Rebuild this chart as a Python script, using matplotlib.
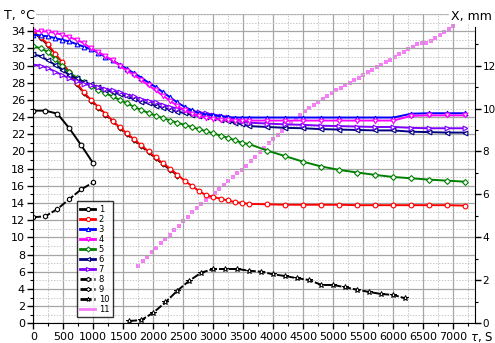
import matplotlib
matplotlib.use("Agg")
import matplotlib.pyplot as plt
from matplotlib.ticker import MultipleLocator

# --- time grids (s) ---
t_fine = [0, 120, 240, 360, 480, 600, 720, 840, 960, 1080, 1200, 1320, 1440, 1560,
          1680, 1800, 1920, 2040, 2160, 2280, 2400, 2520, 2640, 2760, 2880, 3000,
          3120, 3240, 3360, 3480, 3600, 3900, 4200, 4500, 4800, 5100, 5400, 5700,
          6000, 6300, 6600, 6900, 7200]
t_short = [0, 200, 400, 600, 800, 1000]
t_s9 = [0, 120, 240, 360, 480, 600, 720, 840, 960, 1080, 1200, 1320, 1440, 1560,
        1680, 1800, 1920, 2040, 2160, 2280, 2400]
t_s10 = [1600, 1800, 2000, 2200, 2400, 2600, 2800, 3000, 3200, 3400, 3600, 3800,
         4000, 4200, 4400, 4600, 4800, 5000, 5200, 5400, 5600, 5800, 6000, 6200]
t_s11 = [1750, 1825, 1900, 1975, 2050, 2125, 2200, 2275, 2350, 2425, 2500, 2575,
         2650, 2725, 2800, 2875, 2950, 3025, 3100, 3175, 3250, 3325, 3400, 3475,
         3550, 3625, 3700, 3775, 3850, 3925, 4000, 4075, 4150, 4225, 4300, 4375,
         4450, 4525, 4600, 4675, 4750, 4825, 4900, 4975, 5050, 5125, 5200, 5275,
         5350, 5425, 5500, 5575, 5650, 5725, 5800, 5875, 5950, 6025, 6100, 6175,
         6250, 6325, 6400, 6475, 6550, 6625, 6700, 6775, 6850, 6925, 7000]

# --- temperatures (°C) ---
s1 = [24.75, 24.75, 24.4, 22.7, 20.7, 18.6]
s2 = [33.9, 33.3, 32.5, 31.4, 30.4, 29.2, 28.0, 26.9, 26.0, 25.2, 24.4, 23.6, 22.8,
      22.1, 21.4, 20.7, 20.0, 19.3, 18.6, 18.0, 17.3, 16.6, 16.0, 15.4, 14.9, 14.7,
      14.5, 14.3, 14.1, 14.0, 13.9, 13.85, 13.8, 13.8, 13.8, 13.8, 13.75, 13.75,
      13.75, 13.75, 13.75, 13.75, 13.7]
s3 = [33.6, 33.5, 33.4, 33.2, 33.0, 32.8, 32.5, 32.2, 31.9, 31.5, 31.0, 30.6, 30.1,
      29.6, 29.1, 28.6, 28.0, 27.5, 26.9, 26.3, 25.7, 25.2, 24.8, 24.45, 24.3, 24.2,
      24.1, 24.0, 23.95, 23.95, 23.95, 23.95, 23.95, 23.95, 23.95, 23.95, 23.95,
      23.95, 23.95, 24.4, 24.45, 24.45, 24.45]
s4 = [34.0, 34.0, 33.95, 33.8, 33.6, 33.3, 33.0, 32.6, 32.0, 31.6, 31.1, 30.6, 30.0,
      29.4, 28.9, 28.3, 27.7, 27.1, 26.5, 25.9, 25.3, 24.8, 24.4, 24.1, 23.9, 23.8,
      23.7, 23.65, 23.6, 23.6, 23.6, 23.6, 23.6, 23.6, 23.6, 23.6, 23.6, 23.6, 23.6,
      24.15, 24.2, 24.2, 24.2]
s5 = [32.3, 32.0, 31.6, 30.8, 29.9, 29.2, 28.6, 28.1, 27.6, 27.2, 26.8, 26.4, 26.0,
      25.6, 25.2, 24.8, 24.5, 24.15, 23.9, 23.6, 23.35, 23.1, 22.85, 22.6, 22.35,
      22.1, 21.85, 21.6, 21.3, 21.0, 20.85, 20.1, 19.45, 18.8, 18.25, 17.85, 17.55,
      17.27, 17.03, 16.88, 16.72, 16.6, 16.48]
s6 = [31.3, 31.1, 30.6, 30.1, 29.5, 28.9, 28.5, 28.1, 27.8, 27.5, 27.2, 26.9, 26.7,
      26.4, 26.1, 25.8, 25.6, 25.35, 25.1, 24.85, 24.65, 24.45, 24.3, 24.15, 24.0,
      23.85, 23.7, 23.55, 23.35, 23.15, 22.95, 22.85, 22.75, 22.7, 22.6, 22.55, 22.5,
      22.45, 22.45, 22.3, 22.25, 22.2, 22.2]
s7 = [30.1, 30.0, 29.7, 29.3, 28.9, 28.5, 28.2, 27.9, 27.7, 27.5, 27.3, 27.1, 26.9,
      26.6, 26.4, 26.1, 25.9, 25.7, 25.45, 25.2, 25.0, 24.85, 24.7, 24.55, 24.45,
      24.3, 24.15, 24.0, 23.8, 23.55, 23.35, 23.25, 23.15, 23.1, 23.0, 22.95, 22.9,
      22.85, 22.85, 22.75, 22.7, 22.7, 22.7]
s8 = [12.35, 12.45, 13.3, 14.45, 15.6, 16.4]
s9 = [33.85, 33.2, 32.4, 31.3, 30.3, 29.1, 27.9, 26.8, 25.9, 25.1, 24.3, 23.5, 22.7,
      22.0, 21.3, 20.6, 19.9, 19.2, 18.5, 17.9, 17.2]
s10 = [0.27, 0.38, 1.24, 2.44, 3.8, 4.96, 5.9, 6.32, 6.32, 6.32, 6.12, 6.0, 5.7, 5.5,
       5.24, 5.04, 4.46, 4.46, 4.19, 3.91, 3.64, 3.41, 3.3, 2.9]

# --- displacement (mm) ---
s11 = [2.68, 2.89, 3.10, 3.30, 3.51, 3.72, 3.92, 4.13, 4.34, 4.54, 4.75, 4.96, 5.16,
       5.36, 5.54, 5.72, 5.90, 6.08, 6.26, 6.44, 6.62, 6.80, 6.98, 7.16, 7.34, 7.55,
       7.76, 7.96, 8.17, 8.38, 8.58, 8.77, 8.96, 9.14, 9.33, 9.52, 9.71, 9.90, 10.04,
       10.17, 10.31, 10.45, 10.59, 10.72, 10.84, 10.96, 11.08, 11.20, 11.32, 11.44,
       11.56, 11.68, 11.80, 11.92, 12.04, 12.16, 12.28, 12.40, 12.52, 12.64, 12.76,
       12.88, 13.00, 13.04, 13.07, 13.14, 13.28, 13.42, 13.56, 13.70, 13.83]

fig = plt.figure(figsize=(4.95, 3.43), dpi=100)
ax = fig.add_axes([0.0673, 0.0574, 0.8923, 0.9018])
ax2 = ax.twinx()

lw = 1.4
mk = dict(ms=3.4, mfc="white", mew=0.8)
dash = (0, (4, 1))

handles = []
h9 = ax.plot(t_s9, s9, color="black", lw=lw, ls=dash, marker="D", label="9",
             ms=2.6, mfc="white", mew=0.7, zorder=1.5)
handles += ax.plot(t_short, s1, color="black", lw=lw, marker="o", label="1", **mk)
handles += ax.plot(t_fine, s2, color="#ff0000", lw=lw, marker="o", label="2", **mk)
handles += ax.plot(t_fine, s5, color="#008000", lw=lw, marker="D", label="5",
                   ms=3.0, mfc="white", mew=0.8)
handles += ax.plot(t_fine, s6, color="#000080", lw=lw, marker="<", label="6", **mk)
handles += ax.plot(t_fine, s7, color="#8000ff", lw=lw, marker=">", label="7", **mk)
handles += ax.plot(t_fine, s3, color="#0000ff", lw=lw, marker="^", label="3", **mk)
handles += ax.plot(t_fine, s4, color="#ff00ff", lw=lw, marker="v", label="4", **mk)
handles += ax.plot(t_short, s8, color="black", lw=lw, ls=dash, marker="h", label="8", **mk)
handles += h9
handles += ax.plot(t_s10, s10, color="black", lw=lw, ls=dash, marker="*", label="10",
                   ms=4.0, mfc="white", mew=0.7)
handles += ax2.plot(t_s11, s11, color="#f57ff5", lw=0, marker="s", ms=2.4, mew=0,
                    label="11")
order = ["1", "2", "3", "4", "5", "6", "7", "8", "9", "10", "11"]
handles = sorted(handles, key=lambda h: order.index(h.get_label()))

# axes ranges
ax.set_xlim(0, 7360)
ax.set_ylim(0, 36)
ax2.set_ylim(0, 14.4)

ax.set_xticks(range(0, 7001, 500))
ax.set_xticks(range(250, 7360, 500), minor=True)
ax.set_yticks(range(0, 35, 2))
ax.yaxis.set_minor_locator(MultipleLocator(1))
ax2.set_yticks(range(0, 13, 2))
ax2.set_yticks(range(1, 14, 2), minor=True)

ax.grid(which="major", color="#a6a6a6", lw=0.9, ls="-")
ax.grid(which="minor", color="#c8c8c8", lw=0.7, ls=(0, (1.5, 1.5)))
ax.axhline(36, color="#a6a6a6", lw=0.9, zorder=0.5)
ax.set_axisbelow(True)

for a in (ax, ax2):
    a.spines["top"].set_visible(False)
ax.spines["right"].set_visible(False)
ax2.spines["left"].set_visible(False)
ax2.spines["bottom"].set_visible(False)
ax.spines["left"].set_bounds(0, 34.5)
ax2.spines["right"].set_bounds(0, 13.8)

ax.tick_params(axis="both", which="major", direction="out", length=4, width=1,
               labelsize=8, pad=2)
ax.tick_params(axis="both", which="minor", direction="out", length=2, width=0.8)
ax2.tick_params(axis="y", which="major", direction="out", length=4, width=1,
                labelsize=7.5, pad=1.5)
ax2.tick_params(axis="y", which="minor", direction="out", length=2, width=0.8)

ax.set_zorder(ax2.get_zorder() + 1)
ax.patch.set_visible(False)

fig.text(0.008, 0.955, "T, °C", fontsize=9, ha="left", va="center",
         bbox=dict(facecolor="white", edgecolor="none", pad=1))
fig.text(0.993, 0.952, "X, mm", fontsize=9, ha="right", va="center",
         bbox=dict(facecolor="white", edgecolor="none", pad=1))
fig.text(0.997, 0.018, r"$\tau$, S", fontsize=8.5, ha="right", va="center")

leg = ax.legend(handles=handles, loc="lower left", bbox_to_anchor=(0.099, 0.02),
                borderaxespad=0, fontsize=6, handlelength=1.8, handletextpad=0.4,
                labelspacing=0.12, borderpad=0.4, frameon=True, fancybox=False,
                markerscale=0.85)
leg.get_frame().set_edgecolor("black")
leg.get_frame().set_linewidth(1.0)
for line in leg.get_lines():
    line.set_linewidth(2.0)

fig.savefig("out.png", dpi=100)
